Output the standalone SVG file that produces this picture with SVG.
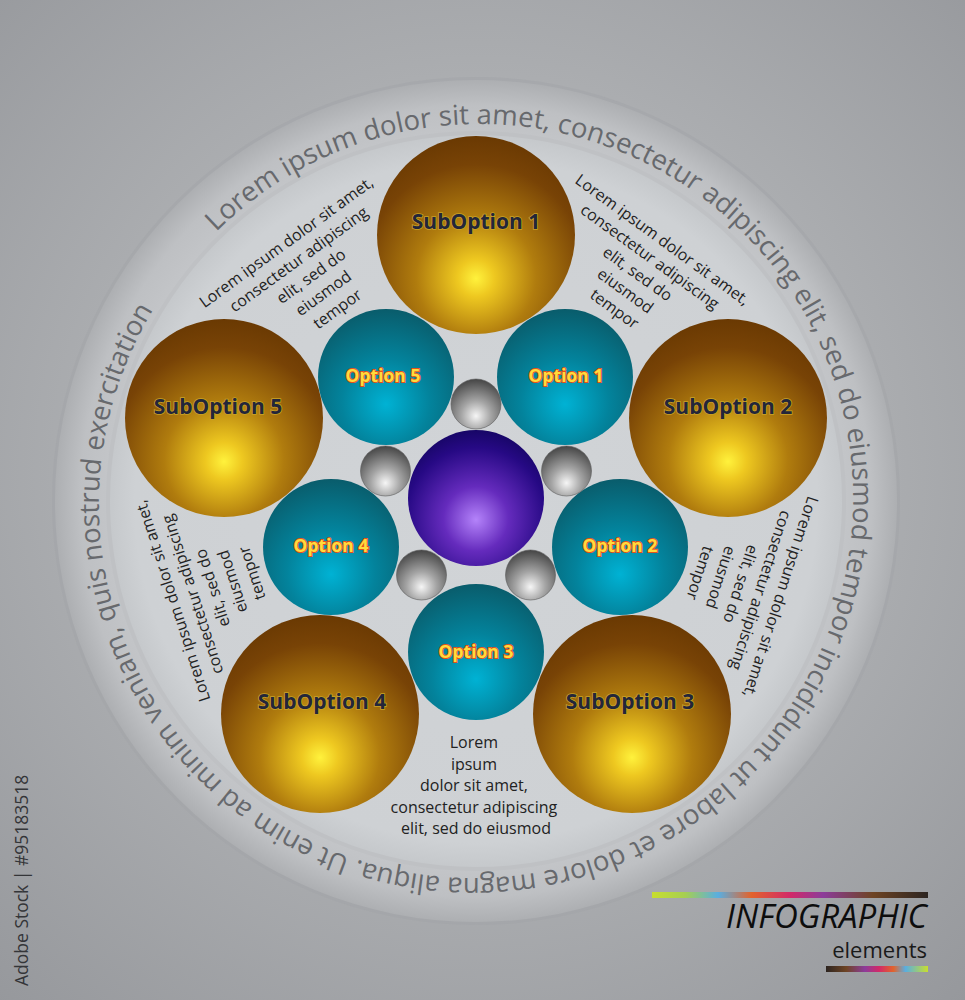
<svg xmlns="http://www.w3.org/2000/svg" width="965" height="1000" viewBox="0 0 965 1000">
<defs>
  <radialGradient id="bg" gradientUnits="userSpaceOnUse" cx="480" cy="470" r="720">
    <stop offset="0" stop-color="#c3c5c8"/>
    <stop offset="0.55" stop-color="#abadb0"/>
    <stop offset="1" stop-color="#96989c"/>
  </radialGradient>
  <radialGradient id="ring" gradientUnits="userSpaceOnUse" cx="476" cy="501" r="421">
    <stop offset="0" stop-color="#c8cacd"/>
    <stop offset="0.86" stop-color="#c4c6c9"/>
    <stop offset="0.94" stop-color="#bec0c3"/>
    <stop offset="1" stop-color="#adafb2"/>
  </radialGradient>
  <radialGradient id="inner" gradientUnits="userSpaceOnUse" cx="476" cy="501" r="367">
    <stop offset="0" stop-color="#d1d4d7"/>
    <stop offset="0.93" stop-color="#ced1d4"/>
    <stop offset="1" stop-color="#c5c8cb"/>
  </radialGradient>
  <radialGradient id="subG" cx="0.5" cy="0.7" r="0.72" fx="0.5" fy="0.72">
    <stop offset="0" stop-color="#fff23c"/>
    <stop offset="0.13" stop-color="#eec820"/>
    <stop offset="0.42" stop-color="#b07c0e"/>
    <stop offset="0.78" stop-color="#784306"/>
    <stop offset="1" stop-color="#683802"/>
  </radialGradient>
  <radialGradient id="optG" cx="0.5" cy="0.68" r="0.72" fx="0.5" fy="0.7">
    <stop offset="0" stop-color="#00b2d4"/>
    <stop offset="0.45" stop-color="#03839c"/>
    <stop offset="1" stop-color="#0a5866"/>
  </radialGradient>
  <radialGradient id="grayG" cx="0.5" cy="0.72" r="0.75" fx="0.5" fy="0.74">
    <stop offset="0" stop-color="#f6f6f6"/>
    <stop offset="0.4" stop-color="#a4a4a4"/>
    <stop offset="1" stop-color="#3e3e3e"/>
  </radialGradient>
  <radialGradient id="purG" cx="0.5" cy="0.64" r="0.72" fx="0.5" fy="0.66">
    <stop offset="0" stop-color="#b483fa"/>
    <stop offset="0.33" stop-color="#652bbd"/>
    <stop offset="0.72" stop-color="#260984"/>
    <stop offset="1" stop-color="#0e0454"/>
  </radialGradient>
  <linearGradient id="barA" x1="0" y1="0" x2="1" y2="0">
    <stop offset="0" stop-color="#c8de2e"/>
    <stop offset="0.12" stop-color="#a6cf52"/>
    <stop offset="0.24" stop-color="#5aaee0"/>
    <stop offset="0.36" stop-color="#e2632c"/>
    <stop offset="0.5" stop-color="#d22a68"/>
    <stop offset="0.62" stop-color="#8c3c9a"/>
    <stop offset="0.8" stop-color="#6e4424"/>
    <stop offset="1" stop-color="#2c2420"/>
  </linearGradient>
  <linearGradient id="barB" x1="0" y1="0" x2="1" y2="0">
    <stop offset="0" stop-color="#2c2420"/>
    <stop offset="0.2" stop-color="#6e4424"/>
    <stop offset="0.38" stop-color="#8c3c9a"/>
    <stop offset="0.52" stop-color="#d22a68"/>
    <stop offset="0.66" stop-color="#e2632c"/>
    <stop offset="0.78" stop-color="#5aaee0"/>
    <stop offset="1" stop-color="#c8de2e"/>
  </linearGradient>
  <path id="arcPath" d="M216.2,232 A374,374 0 1 1 735.8,770 A374,374 0 1 1 216.2,232"/>
</defs>
<style>
  .arc { font-family: "Open Sans", "Liberation Sans", sans-serif; font-size: 27.5px; fill: #67696d; }
  .body { font-family: "Open Sans", "Liberation Sans", sans-serif; font-size: 16px; fill: #222222; text-anchor: middle; }
  .sub { fill: url(#subG); }
  .opt { fill: url(#optG); }
  .gry { fill: url(#grayG); stroke: #5a5a5a; stroke-width: 0.6; }
  .subL { font-family: "Open Sans", "Liberation Sans", sans-serif; font-weight: bold; font-size: 21px; fill: #23263a; stroke: #c9a227; stroke-width: 1.6; paint-order: stroke; text-anchor: middle; }
  .optL { font-family: "Open Sans", "Liberation Sans", sans-serif; font-weight: bold; font-size: 17.5px; fill: #ffdc3c; stroke: #e4521c; stroke-width: 1.8; paint-order: stroke; text-anchor: middle; }
</style>

<rect width="965" height="1000" fill="url(#bg)"/>
<circle cx="476" cy="501" r="424" fill="#a2a4a7" opacity="0.5"/>
<circle cx="476" cy="501" r="421" fill="url(#ring)"/>
<circle cx="476" cy="501" r="370" fill="#bfc1c4"/>
<circle cx="476" cy="501" r="366" fill="url(#inner)"/>

<text class="arc"><textPath href="#arcPath">Lorem ipsum dolor sit amet, consectetur adipiscing elit, sed do eiusmod tempor incididunt ut labore et dolore magna aliqua. Ut enim ad minim veniam, quis nostrud exercitation</textPath></text>

<g id="text-blocks">
  <text class="body" transform="translate(288,241) rotate(-36)">
    <tspan x="0" y="5.5">Lorem ipsum dolor sit amet,</tspan>
    <tspan x="0" y="26.5">consectetur adipiscing</tspan>
    <tspan x="0" y="47.5">elit, sed do</tspan>
    <tspan x="0" y="68.5">eiusmod</tspan>
    <tspan x="0" y="89.5">tempor</tspan>
  </text>
  <text class="body" transform="translate(664,241) rotate(36)">
    <tspan x="0" y="5.5">Lorem ipsum dolor sit amet,</tspan>
    <tspan x="0" y="26.5">consectetur adipiscing</tspan>
    <tspan x="0" y="47.5">elit, sed do</tspan>
    <tspan x="0" y="68.5">eiusmod</tspan>
    <tspan x="0" y="89.5">tempor</tspan>
  </text>
  <text class="body" transform="translate(780,599) rotate(108)">
    <tspan x="0" y="5.5">Lorem ipsum dolor sit amet,</tspan>
    <tspan x="0" y="26.5">consectetur adipiscing</tspan>
    <tspan x="0" y="47.5">elit, sed do</tspan>
    <tspan x="0" y="68.5">eiusmod</tspan>
    <tspan x="0" y="89.5">tempor</tspan>
  </text>
  <text class="body" transform="translate(172,599) rotate(-108)">
    <tspan x="0" y="5.5">Lorem ipsum dolor sit amet,</tspan>
    <tspan x="0" y="26.5">consectetur adipiscing</tspan>
    <tspan x="0" y="47.5">elit, sed do</tspan>
    <tspan x="0" y="68.5">eiusmod</tspan>
    <tspan x="0" y="89.5">tempor</tspan>
  </text>
  <text class="body">
    <tspan x="476" y="748">Lorem</tspan>
    <tspan x="476" y="769.5">ipsum</tspan>
    <tspan x="476" y="791">dolor sit amet,</tspan>
    <tspan x="476" y="812.5">consectetur adipiscing</tspan>
    <tspan x="476" y="834">elit, sed do eiusmod</tspan>
  </text>
</g>

<g id="connectors"></g>

<g id="suboption1"><circle class="sub" cx="476" cy="235" r="99"/><text class="subL" x="476" y="229">SubOption 1</text></g>
<g id="suboption2"><circle class="sub" cx="728" cy="418" r="99"/><text class="subL" x="728" y="414">SubOption 2</text></g>
<g id="suboption3"><circle class="sub" cx="632" cy="714" r="99"/><text class="subL" x="630" y="709">SubOption 3</text></g>
<g id="suboption4"><circle class="sub" cx="320" cy="714" r="99"/><text class="subL" x="322" y="709">SubOption 4</text></g>
<g id="suboption5"><circle class="sub" cx="224" cy="418" r="99"/><text class="subL" x="218" y="414">SubOption 5</text></g>

<g id="option1"><circle class="opt" cx="565" cy="377" r="68"/><text class="optL" x="566" y="382">Option 1</text></g>
<g id="option2"><circle class="opt" cx="620" cy="547" r="68"/><text class="optL" x="620" y="552">Option 2</text></g>
<g id="option3"><circle class="opt" cx="476" cy="652" r="68"/><text class="optL" x="476" y="658">Option 3</text></g>
<g id="option4"><circle class="opt" cx="331" cy="547" r="68"/><text class="optL" x="331" y="552">Option 4</text></g>
<g id="option5"><circle class="opt" cx="386" cy="377" r="68"/><text class="optL" x="383" y="382">Option 5</text></g>

<g id="spheres">
  <circle class="gry" cx="476" cy="404" r="25"/>
  <circle class="gry" cx="566.5" cy="471" r="25"/>
  <circle class="gry" cx="530.5" cy="575" r="25"/>
  <circle class="gry" cx="421.5" cy="575" r="25"/>
  <circle class="gry" cx="385.5" cy="471" r="25"/>
</g>

<g id="center"><circle cx="476" cy="498" r="68" fill="url(#purG)"/></g>

<g id="logo">
  <rect x="652" y="892" width="276" height="6" fill="url(#barA)"/>
  <text x="927" y="928" text-anchor="end" font-family="'Open Sans', 'Liberation Sans', sans-serif" font-style="italic" font-size="33" fill="#0d0d0d">INFOGRAPHIC</text>
  <text x="927" y="958" text-anchor="end" font-family="'Open Sans', 'Liberation Sans', sans-serif" font-size="22" fill="#1a1a1a">elements</text>
  <rect x="826" y="966" width="102" height="6" fill="url(#barB)"/>
</g>

<text transform="translate(28,986) rotate(-90)" font-family="'Open Sans', 'Liberation Sans', sans-serif" font-size="17.5" fill="#343538">Adobe Stock | #95183518</text>
</svg>
